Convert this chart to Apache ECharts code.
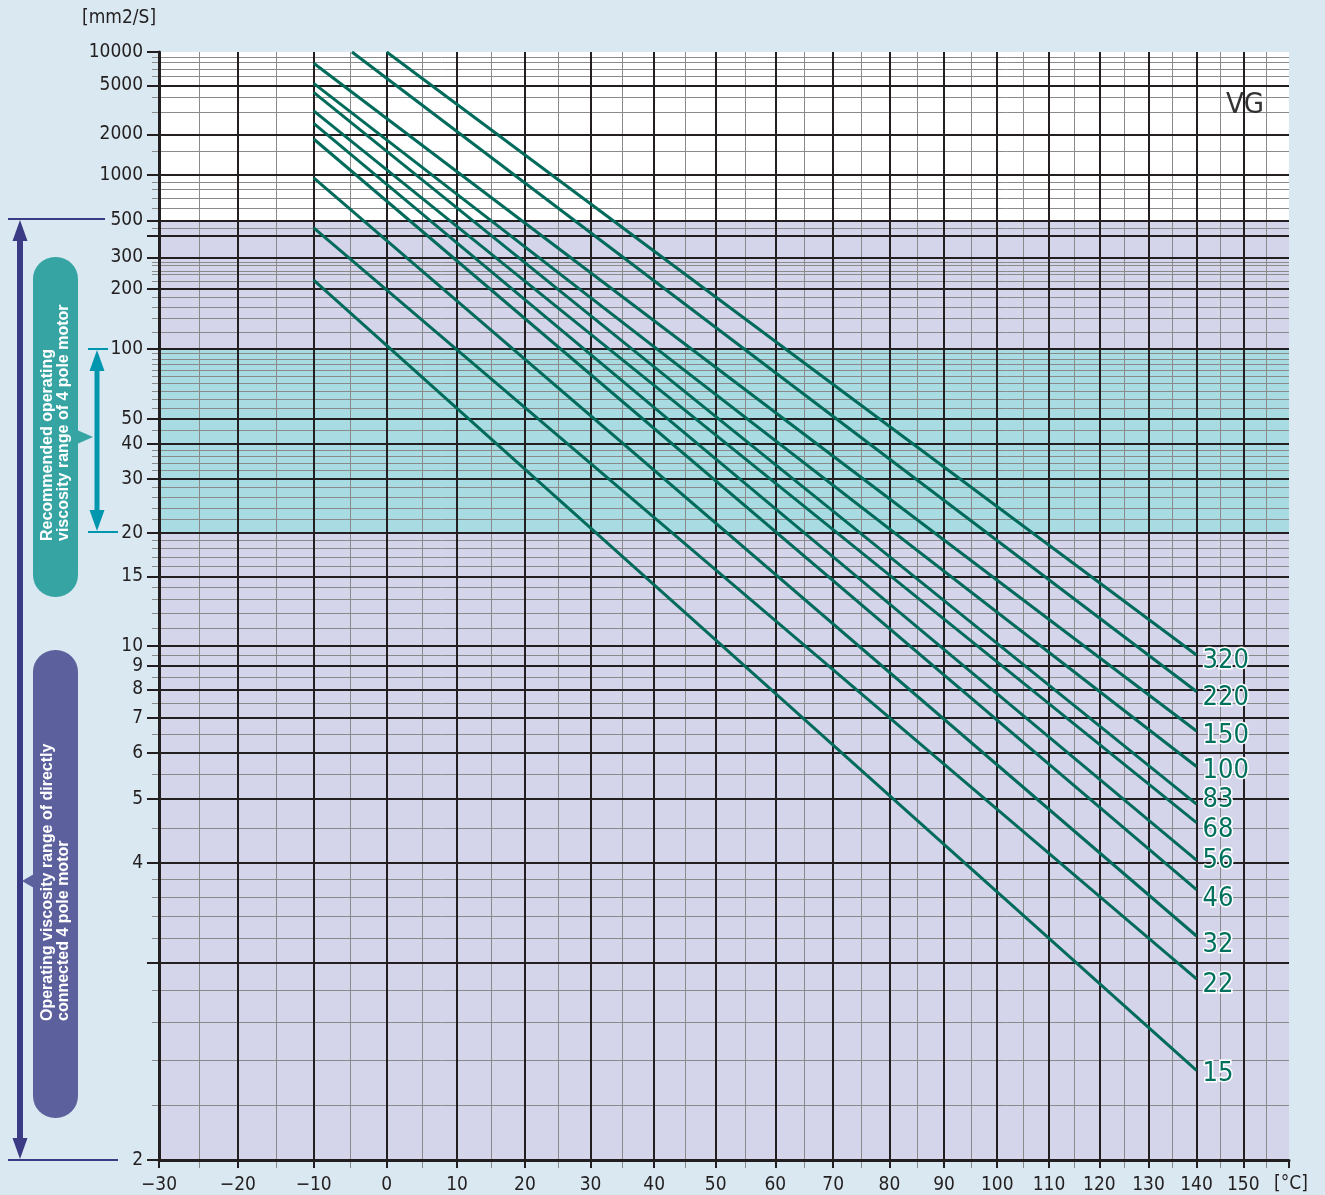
<!DOCTYPE html>
<html><head><meta charset="utf-8">
<script src="https://cdn.jsdelivr.net/npm/echarts@6/dist/echarts.min.js"></script>
<style>html,body{margin:0;padding:0;background:#d9e8f1;}#c{width:1325px;height:1195px;}</style>
</head><body><div id="c"></div>
<script>
// ---------- data ----------
const TEMP_MIN = -30;
const TEMP_MAX = 160;
const TEMP_MAJOR = [-30,-20,-10,0,10,20,30,40,50,60,70,80,90,100,110,120,130,140,150];
const TEMP_MINOR = [-25,-15,-5,5,15,25,35,45,55,65,75,85,95,105,115,125,135,145,155];

const VISC_MIN = 2;
const VISC_MAX = 10000;
const VISC_MAJOR = [10000,5000,2000,1000,500,400,300,200,100,50,40,30,20,15,10,9,8,7,6,5,4,3,2];
const VISC_LABELS = [10000,5000,2000,1000,500,300,200,100,50,40,30,20,15,10,9,8,7,6,5,4,2];
const VISC_MINOR = [9000,8000,7000,6000,4000,3000,1500,900,800,700,600,450,280,270,250,240,220,
  180,160,140,120,95,90,85,80,75,70,65,60,55,45,38,36,34,32,28,26,24,22,19,18,17,16,14,13,12,11,
  9.5,8.5,7.5,6.5,5.5,4.5,3.8,3.6,3.4,3.2,2.8,2.6,2.4,2.2];

const BAND_OPERATING = [2, 500];
const BAND_RECOMMENDED = [20, 100];

const GRADES     = ['320','220','150','100','83','68','56','46','32','22','15'];
const START_TEMP = [0, -4.8, -10, -10, -10, -10, -10, -10, -10, -10, -10];
const START_VISC = [10000, 10000, 7870, 5220, 4370, 3060, 2430, 1840, 958, 450, 223];
const END_TEMP   = [140, 140, 140, 140, 140, 140, 140, 140, 140, 140, 140];
const END_VISC   = [9.52, 7.92, 6.60, 5.68, 4.91, 4.59, 4.04, 3.68, 3.22, 2.88, 2.35];

// label vertical nudges (style only)
const LABEL_DY = [6, 6, 5, 4, -4, 7, 1, 9, 9, 6, 4];

// ---------- scales (ASTM style: x = log T[K], y = log log v), scaled by 1000 ----------
const K = 1000;
const tx = t => K * Math.log10(t + 273.15);
const vy = v => K * Math.log10(Math.log10(v));

const FONT = "'Liberation Sans Narrow','DejaVu Sans Condensed','Liberation Sans',sans-serif";
const BLACK = '#231f20';
const GRAY = '#8a8a8a';
const LINE = '#006b5b';

function gridSeries(name, xs, ys, color, width, z, extra) {
  return {
    type: 'line', name, data: [], z, silent: true, animation: false,
    markLine: {
      silent: true, animation: false, symbol: ['none','none'], precision: 8,
      label: { show: false }, emphasis: { disabled: true },
      lineStyle: { color, width, type: 'solid' },
      data: [...xs.map(t => ({ xAxis: tx(t) })), ...ys.map(v => ({ yAxis: vy(v) })), ...(extra || [])]
    }
  };
}

const series = [];
series.push({
  type: 'line', name: 'bands', data: [], z: 1, silent: true, animation: false,
  markArea: {
    silent: true, animation: false,
    data: [
      [{ yAxis: vy(BAND_OPERATING[0]), itemStyle: { color: '#d4d5eb' } }, { yAxis: vy(BAND_OPERATING[1]) }],
      [{ yAxis: vy(BAND_RECOMMENDED[0]), itemStyle: { color: '#a9dce2' } }, { yAxis: vy(BAND_RECOMMENDED[1]) }]
    ]
  }
});
series.push(gridSeries('minor', TEMP_MINOR, VISC_MINOR, GRAY, 1, 2));
series.push(gridSeries('major', TEMP_MAJOR, VISC_MAJOR, BLACK, 2, 3,
  [{ xAxis: tx(TEMP_MAX), lineStyle: { color: '#555', width: 2 } }]));

GRADES.forEach((g, i) => {
  series.push({
    type: 'line', name: g, z: 6, silent: true, animation: false,
    symbol: 'none',
    lineStyle: { color: LINE, width: 3 },
    data: [[tx(START_TEMP[i]), vy(START_VISC[i])], [tx(END_TEMP[i]), vy(END_VISC[i])]],
    endLabel: {
      show: true, formatter: '{a}', distance: 6, offset: [0, LABEL_DY[i]],
      color: '#00705f', fontSize: 27, fontFamily: FONT,
      textBorderColor: '#fff', textBorderWidth: 3
    }
  });
});

const yFmt = v => String(Math.round(Math.pow(10, Math.pow(10, v / K))));
const xFmt = v => { const t = Math.round(Math.pow(10, v / K) - 273.15); return t < 0 ? '\u2212' + (-t) : String(t); };

const NAVY = '#3a3b84';
const TEAL_ARROW = '#0097ae';
const option = {
  backgroundColor: '#d9e8f1',
  animation: false,
  grid: { left: 159, right: 36, top: 52, bottom: 35, show: true, backgroundColor: '#ffffff', borderWidth: 0 },
  xAxis: [
    { type: 'value', min: tx(TEMP_MIN), max: tx(TEMP_MAX), z: 10, position: 'bottom',
      axisLine: { show: true, onZero: false, lineStyle: { color: BLACK, width: 3 } },
      axisTick: { show: true, customValues: TEMP_MAJOR.concat([TEMP_MAX]).map(tx), length: 8, lineStyle: { color: BLACK, width: 2 } },
      axisLabel: { customValues: TEMP_MAJOR.map(tx), formatter: xFmt, margin: 16, fontSize: 19, fontFamily: FONT, color: BLACK },
      splitLine: { show: false } },
    { type: 'value', min: tx(TEMP_MIN), max: tx(TEMP_MAX), position: 'bottom', z: 9,
      axisLine: { show: false, onZero: false },
      axisTick: { show: true, customValues: TEMP_MINOR.map(tx), length: 8, lineStyle: { color: GRAY, width: 1 } },
      axisLabel: { show: false }, splitLine: { show: false } }
  ],
  yAxis: [
    { type: 'value', min: vy(VISC_MIN), max: vy(VISC_MAX), z: 10, position: 'left',
      axisLine: { show: true, onZero: false, lineStyle: { color: BLACK, width: 3 } },
      axisTick: { show: true, customValues: VISC_MAJOR.map(vy), length: 12, lineStyle: { color: BLACK, width: 2 } },
      axisLabel: { customValues: VISC_LABELS.map(vy), formatter: yFmt, margin: 16, fontSize: 19, fontFamily: FONT, color: BLACK },
      splitLine: { show: false } },
    { type: 'value', min: vy(VISC_MIN), max: vy(VISC_MAX), position: 'left', z: 9,
      axisLine: { show: false, onZero: false },
      axisTick: { show: true, customValues: VISC_MINOR.map(vy), length: 7, lineStyle: { color: GRAY, width: 1 } },
      axisLabel: { show: false }, splitLine: { show: false } }
  ],
  series,
  graphic: [
    { type: 'text', x: 82, y: 18, z: 20, style: { text: '[mm2/S]', fill: BLACK, font: "19px " + FONT, align: 'left', verticalAlign: 'middle', textAlign: 'left', textVerticalAlign: 'middle' } },
    { type: 'text', x: 1274, y: 1184, z: 20, style: { text: '[°C]', fill: BLACK, font: "19px " + FONT, align: 'left', verticalAlign: 'middle', textAlign: 'left', textVerticalAlign: 'middle' } },
    { type: 'text', x: 1245, y: 105, z: 20, style: { text: 'VG', fill: '#333', font: "29px " + FONT, align: 'center', verticalAlign: 'middle', textAlign: 'center', textVerticalAlign: 'middle' } },
    // operating range arrow
    { type: 'line', z: 20, shape: { x1: 8, y1: 219, x2: 105, y2: 219 }, style: { stroke: NAVY, lineWidth: 2 } },
    { type: 'line', z: 20, shape: { x1: 8, y1: 1160, x2: 118, y2: 1160 }, style: { stroke: NAVY, lineWidth: 2 } },
    { type: 'rect', z: 20, shape: { x: 17, y: 236, width: 6, height: 908 }, style: { fill: NAVY } },
    { type: 'polygon', z: 20, shape: { points: [[20, 220], [12.5, 241], [27.5, 241]] }, style: { fill: NAVY } },
    { type: 'polygon', z: 20, shape: { points: [[20, 1159], [12.5, 1138], [27.5, 1138]] }, style: { fill: NAVY } },
    // recommended range arrow
    { type: 'line', z: 20, shape: { x1: 88, y1: 349, x2: 108, y2: 349 }, style: { stroke: TEAL_ARROW, lineWidth: 2 } },
    { type: 'line', z: 20, shape: { x1: 88, y1: 532, x2: 118, y2: 532 }, style: { stroke: TEAL_ARROW, lineWidth: 2 } },
    { type: 'rect', z: 20, shape: { x: 94.5, y: 365, width: 5, height: 150 }, style: { fill: TEAL_ARROW } },
    { type: 'polygon', z: 20, shape: { points: [[97, 350], [89.5, 371], [104.5, 371]] }, style: { fill: TEAL_ARROW } },
    { type: 'polygon', z: 20, shape: { points: [[97, 531], [89.5, 510], [104.5, 510]] }, style: { fill: TEAL_ARROW } },
    // recommended box
    { type: 'rect', z: 20, shape: { x: 33, y: 257, width: 45, height: 340, r: 22 }, style: { fill: '#37a4a4' } },
    { type: 'polygon', z: 20, shape: { points: [[77, 430], [93, 437], [77, 444]] }, style: { fill: '#37a4a4' } },
    { type: 'text', z: 21, x: 55.5, y: 541, rotation: Math.PI / 2,
      style: { text: 'Recommended operating\nviscosity range of 4 pole motor', fill: '#fff', font: "bold 16px 'Liberation Sans', Arial, sans-serif", lineHeight: 16, align: 'left', verticalAlign: 'middle', textAlign: 'left', textVerticalAlign: 'middle' } },
    // operating box
    { type: 'rect', z: 20, shape: { x: 33, y: 650, width: 45, height: 468, r: 22 }, style: { fill: '#5c619e' } },
    { type: 'polygon', z: 20, shape: { points: [[34, 874], [22, 881], [34, 888]] }, style: { fill: '#5c619e' } },
    { type: 'text', z: 21, x: 55.5, y: 1021, rotation: Math.PI / 2,
      style: { text: 'Operating viscosity range of directly\nconnected 4 pole motor', fill: '#fff', font: "bold 16px 'Liberation Sans', Arial, sans-serif", lineHeight: 16, align: 'left', verticalAlign: 'middle', textAlign: 'left', textVerticalAlign: 'middle' } }
  ]
};

const chart = echarts.init(document.getElementById('c'), null, { renderer: 'canvas' });
chart.setOption(option);
</script></body></html>
